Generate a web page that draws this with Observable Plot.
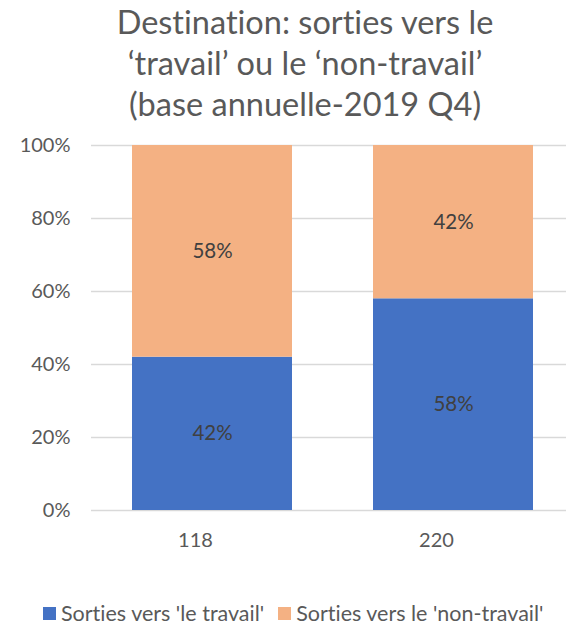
<!DOCTYPE html>
<html>
<head>
<meta charset="utf-8">
<script src="https://cdn.jsdelivr.net/npm/d3@7"></script>
<script src="https://cdn.jsdelivr.net/npm/@observablehq/plot@0.6"></script>
<style>
  body { margin: 0; background: #fff; font-family: Lato, "Open Sans", sans-serif; font-variant-ligatures: none; }
  #wrap { position: relative; width: 566px; height: 626px; overflow: hidden; }
  #title { position: absolute; left: 0; top: 1px; width: 610px; text-align: center; color: #595959;
           font-size: 32.5px; line-height: 41px; white-space: nowrap; }
  #chart { position: absolute; left: 0; top: 130px; }
  #legend { position: absolute; left: 43px; top: 602px; display: flex; align-items: center;
            gap: 14px; color: #595959; font-size: 21.5px; line-height: 22px; white-space: nowrap; }
  .item { display: flex; align-items: center; gap: 5px; white-space: nowrap; }
  .sw { width: 13px; height: 13px; display: inline-block; }
</style>
</head>
<body>
<div id="wrap">
  <div id="title">Destination: sorties vers le<br>‘travail’ ou le ‘non-travail’<br>(base annuelle-2019 Q4)</div>
  <div id="chart"></div>
  <div id="legend"></div>
</div>
<script>
const categories = ["118", "220"];
const series = ["Sorties vers 'le travail'", "Sorties vers le 'non-travail'"];
const travail = [0.42, 0.58];
const nonTravail = [0.58, 0.42];
const colors = ["#4472C4", "#F4B183"];
const yTicks = [0, 0.2, 0.4, 0.6, 0.8, 1];

const data = [];
categories.forEach((c, i) => {
  data.push({cat: c, series: series[0], value: travail[i]});
  data.push({cat: c, series: series[1], value: nonTravail[i]});
});

const chart = Plot.plot({
  width: 566,
  height: 440,
  marginTop: 15,
  marginBottom: 60,
  marginLeft: 91,
  marginRight: 0,
  style: {fontFamily: "Lato, 'Open Sans', sans-serif", color: "#595959", background: "#fff", fontVariantLigatures: "none"},
  x: {domain: categories, range: [91, 574], paddingInner: 0.335, paddingOuter: 0.1655, align: 0.5, label: null},
  y: {domain: [0, 1], label: null},
  color: {domain: series, range: colors},
  marks: [
    Plot.ruleY(yTicks, {stroke: "#d9d9d9", strokeWidth: 1.3}),
    Plot.barY(data, Plot.stackY({x: "cat", y: "value", fill: "series", order: series})),
    Plot.text(data, Plot.stackY({x: "cat", y: "value", z: "series", order: series,
      text: d => Math.round(d.value * 100) + "%", fill: "#404040", fontSize: 20.5})),
    Plot.axisY({ticks: yTicks, tickFormat: d => Math.round(d * 100) + "%", tickSize: 0, tickPadding: 21,
      fontSize: 20, fill: "#595959", label: null}),
    Plot.axisX({tickSize: 0, tickPadding: 22, fontSize: 20, fill: "#595959", dx: -17, label: null})
  ]
});
document.getElementById("chart").appendChild(chart);

const legend = document.getElementById("legend");
series.forEach((s, i) => {
  const it = document.createElement("span");
  it.className = "item";
  const sw = document.createElement("span");
  sw.className = "sw";
  sw.style.background = colors[i];
  const t = document.createElement("span");
  t.textContent = s;
  it.appendChild(sw); it.appendChild(t);
  legend.appendChild(it);
});
</script>
</body>
</html>
